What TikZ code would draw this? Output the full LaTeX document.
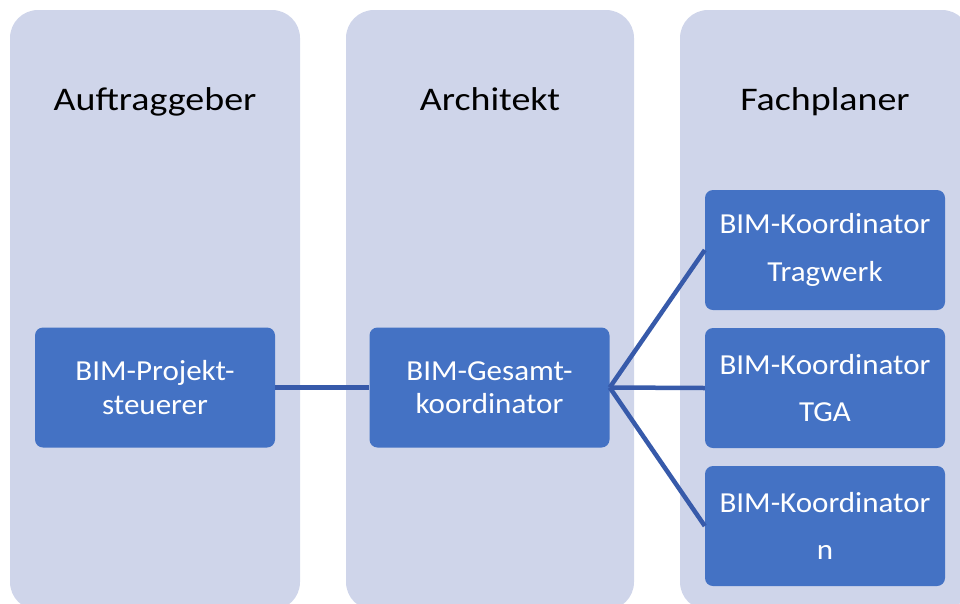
\documentclass[tikz,border=0pt]{standalone}
\usepackage{fontspec}
\setmainfont{Carlito}
\newfontfamily\hdfont[FakeStretch=1.15]{Carlito}
\newfontfamily\bxfont[FakeStretch=1.07]{Carlito}
\definecolor{colfill}{HTML}{CFD5EA}
\definecolor{boxfill}{HTML}{4472C4}
\definecolor{linecol}{RGB}{55,90,170}
\tikzset{
  colbox/.style={draw=none, fill=colfill, rounded corners=28pt, minimum width=290pt, minimum height=600pt, inner sep=0pt},
  rolebox/.style={draw=none, fill=boxfill, rounded corners=8pt, minimum width=240pt, minimum height=120pt, inner sep=0pt, text=white, align=center, font=\bxfont\fontsize{29}{33.6}\selectfont},
  header/.style={anchor=base, font=\hdfont\fontsize{33}{40}\selectfont, text=black},
  conn/.style={draw=linecol, line width=4.5pt}
}
\begin{document}
\begin{tikzpicture}[x=1pt, y=-1pt]
\useasboundingbox (0,0) rectangle (960,603);
\node[colbox] (c1) at (155,310) {};
\node[colbox, minimum width=288pt] (c2) at (490,310) {};
\node[colbox] (c3) at (825,310) {};
\node[header] (h1) at (155,110) {Auftraggeber};
\node[header] (h2) at (490,110) {Architekt};
\node[header] (h3) at (825,110) {Fachplaner};
\node[rolebox] (proj) at (155,387.5) {BIM-Projekt-\\steuerer};
\node[rolebox] (ges) at (489.5,387.5) {BIM-Gesamt-\\koordinator};
\node[rolebox] (k1) at (825,250) {BIM-Koordinator\\[14pt]Tragwerk};
\node[rolebox] (k2) at (825,388) {BIM-Koordinator\\[14pt]TGA};
\node[rolebox] (k3) at (825,526) {BIM-Koordinator\\[14pt]n};
\draw[conn] (proj.east) -- (ges.west);
\draw[conn] (ges.east) -- (k1.west);
\draw[conn] (ges.east) -- (k2.west);
\draw[conn] (ges.east) -- (k3.west);
\end{tikzpicture}
\end{document}
